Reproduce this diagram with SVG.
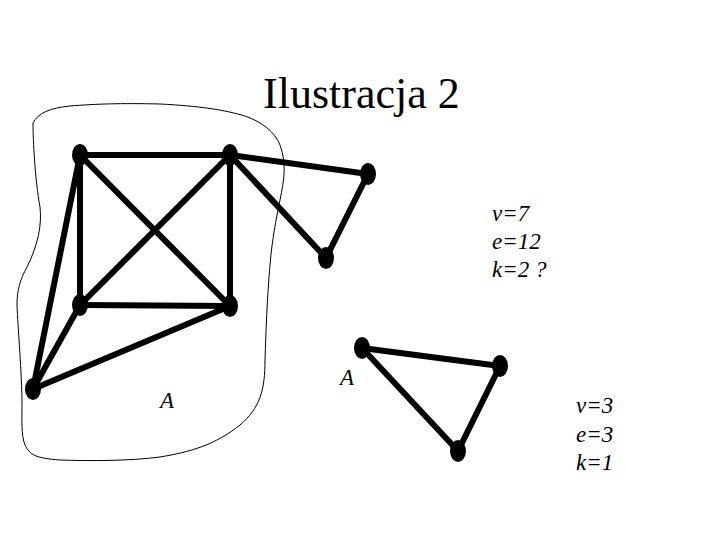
<svg xmlns="http://www.w3.org/2000/svg" width="720" height="540" viewBox="0 0 720 540">
<style>
.e{stroke:#000;stroke-width:6;fill:none}
.n{fill:#000}
.t{font-family:"Liberation Serif",serif;fill:#000}
.i{font-family:"Liberation Serif",serif;font-style:italic;font-size:23px;fill:#000}
</style>
<rect width="720" height="540" fill="#fff"/>
<path id="outline" d="M33,123 C33,140 35,180 40,207 C42,225 38,245 27,267 C20,280 17,290 17,305 C18,330 21,360 22,400 C22,420 21,435 25,445 C30,455 35,458 60,460 C90,461 130,461 160,457 C190,452 215,445 240,425 C260,408 265,390 265,360 C266,330 267,300 270,265 C272,240 276,220 280,200 C284,180 287,165 280,145 C275,132 262,122 245,116 C225,110 200,106 160,104 C120,103 95,104 70,106 C50,108 38,113 33,123 Z" fill="none" stroke="#000" stroke-width="1"/>
<text class="t" x="263" y="108" font-size="44">Ilustracja 2</text>
<g id="connectors">
<line class="e" x1="80" y1="155" x2="230" y2="155"/>
<line class="e" x1="80" y1="155" x2="80" y2="305"/>
<line class="e" x1="230" y1="155" x2="230" y2="306"/>
<line class="e" x1="80" y1="305" x2="230" y2="306"/>
<line class="e" x1="80" y1="155" x2="230" y2="306"/>
<line class="e" x1="230" y1="155" x2="80" y2="305"/>
<line class="e" x1="230" y1="155" x2="368" y2="174"/>
<line class="e" x1="230" y1="155" x2="326" y2="258"/>
<line class="e" x1="368" y1="174" x2="326" y2="258"/>
<line class="e" x1="80" y1="155" x2="33" y2="389"/>
<line class="e" x1="80" y1="305" x2="33" y2="389"/>
<line class="e" x1="230" y1="306" x2="33" y2="389"/>
<line class="e" x1="362" y1="348" x2="500" y2="366"/>
<line class="e" x1="362" y1="348" x2="458" y2="451"/>
<line class="e" x1="500" y1="366" x2="458" y2="451"/>
</g>
<g id="n1"><ellipse class="n" cx="80" cy="155" rx="8" ry="11"/></g>
<g id="n2"><ellipse class="n" cx="230" cy="155" rx="8" ry="11"/></g>
<g id="n3"><ellipse class="n" cx="368" cy="174" rx="8" ry="11"/></g>
<g id="n4"><ellipse class="n" cx="326" cy="258" rx="8" ry="11"/></g>
<g id="n5"><ellipse class="n" cx="80" cy="305" rx="8" ry="11"/></g>
<g id="n6"><ellipse class="n" cx="230" cy="306" rx="8" ry="11"/></g>
<g id="n7"><ellipse class="n" cx="33" cy="389" rx="8" ry="11"/></g>
<g id="m1"><ellipse class="n" cx="362" cy="348" rx="8" ry="11"/></g>
<g id="m2"><ellipse class="n" cx="500" cy="366" rx="8" ry="11"/></g>
<g id="m3"><ellipse class="n" cx="458" cy="451" rx="8" ry="11"/></g>
<text class="i" x="160" y="408">A</text>
<text class="i" x="340" y="385">A</text>
<text class="i" x="492" y="221">v=7</text>
<text class="i" x="492" y="249">e=12</text>
<text class="i" x="492" y="277">k=2 ?</text>
<text class="i" x="576" y="413">v=3</text>
<text class="i" x="576" y="442">e=3</text>
<text class="i" x="576" y="470">k=1</text>
</svg>
